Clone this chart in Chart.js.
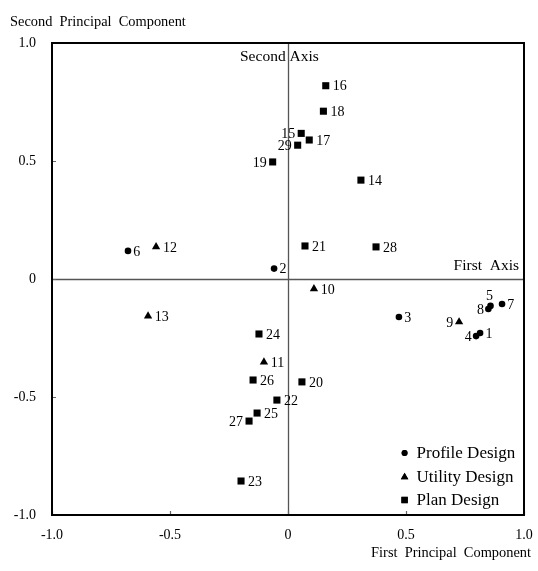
<!DOCTYPE html>
<html>
<head>
<meta charset="utf-8">
<script src="https://cdn.jsdelivr.net/npm/chart.js@4.4.1/dist/chart.umd.min.js"></script>
<style>
  html, body { margin: 0; padding: 0; background: #fff; }
  #wrap { width: 538px; height: 571px; }
</style>
</head>
<body>
<div id="wrap"><canvas id="c" width="538" height="571"></canvas></div>
<script>
// Principal component scores for each design sample
const profileIds = [1, 2, 3, 4, 5, 6, 7, 8];
const profileX   = [0.814, -0.059, 0.470, 0.797, 0.858, -0.678, 0.907, 0.849];
const profileY   = [-0.229, 0.044, -0.161, -0.242, -0.114, 0.119, -0.106, -0.127];

const utilityIds = [9, 10, 11, 12, 13];
const utilityX   = [0.725, 0.110, -0.102, -0.559, -0.593];
const utilityY   = [-0.182, -0.042, -0.352, 0.136, -0.157];

const planIds = [14, 15, 16, 17, 18, 19, 20, 21, 22, 23, 24, 25, 26, 27, 28, 29];
const planX   = [0.309, 0.056, 0.160, 0.090, 0.150, -0.065, 0.059, 0.072, -0.047, -0.199, -0.123, -0.131, -0.148, -0.165, 0.373, 0.041];
const planY   = [0.419, 0.617, 0.819, 0.589, 0.711, 0.496, -0.436, 0.140, -0.513, -0.856, -0.233, -0.568, -0.428, -0.602, 0.136, 0.567];

const seriesNames = ['Profile Design', 'Utility Design', 'Plan Design'];
const tickValues = [-1.0, -0.5, 0, 0.5, 1.0];
const tickLabels = ['-1.0', '-0.5', '0', '0.5', '1.0'];

const FONT = "'Liberation Serif', 'Times New Roman', serif";

// Which side of its marker each sample number sits on (default: right)
const labelSide = { 4: 'left', 8: 'left', 9: 'left', 15: 'left', 19: 'left', 27: 'left', 29: 'left', 5: 'above' };

function pts(xs, ys) { return xs.map((x, i) => ({ x: x, y: ys[i] })); }

const datasets = [
  { label: seriesNames[0], ids: profileIds, data: pts(profileX, profileY), pointStyle: 'circle',   pointRadius: 3.3 },
  { label: seriesNames[1], ids: utilityIds, data: pts(utilityX, utilityY), pointStyle: 'triangle', pointRadius: 4.8 },
  { label: seriesNames[2], ids: planIds,    data: pts(planX, planY),       pointStyle: 'rect',     pointRadius: 5.0 }
].map(d => Object.assign(d, {
  backgroundColor: '#000', borderColor: '#000', borderWidth: 0,
  pointHoverRadius: d.pointRadius, showLine: false
}));

// Frame, inner ticks, sample numbers, annotations and legend
const decor = {
  id: 'decor',
  beforeDatasetsDraw(chart) {
    const { ctx, chartArea: a, scales: { x, y } } = chart;
    ctx.save();
    // zero axes
    ctx.strokeStyle = '#555';
    ctx.lineWidth = 1.3;
    const x0 = Math.round(x.getPixelForValue(0)) + 0.5;
    const y0 = Math.round(y.getPixelForValue(0)) + 0.5;
    ctx.beginPath();
    ctx.moveTo(x0, a.top); ctx.lineTo(x0, a.bottom);
    ctx.moveTo(a.left, y0); ctx.lineTo(a.right, y0);
    ctx.stroke();
    // inward tick marks
    ctx.strokeStyle = '#666';
    ctx.lineWidth = 1.2;
    ctx.beginPath();
    tickValues.forEach(v => {
      const px = Math.round(x.getPixelForValue(v)) + 0.5;
      ctx.moveTo(px, a.bottom); ctx.lineTo(px, a.bottom - 4);
      const py = Math.round(y.getPixelForValue(v)) + 0.5;
      ctx.moveTo(a.left, py); ctx.lineTo(a.left + 4, py);
    });
    ctx.stroke();
    ctx.restore();
  },
  afterDatasetsDraw(chart) {
    const { ctx, chartArea: a, scales: { x, y } } = chart;
    ctx.save();
    // frame
    ctx.strokeStyle = '#000';
    ctx.lineWidth = 2;
    ctx.strokeRect(a.left, a.top, a.right - a.left, a.bottom - a.top);

    ctx.fillStyle = '#000';
    ctx.font = '14px ' + FONT;
    ctx.textBaseline = 'middle';
    // sample numbers
    chart.data.datasets.forEach((ds, di) => {
      const meta = chart.getDatasetMeta(di);
      meta.data.forEach((el, i) => {
        const id = ds.ids[i];
        const side = labelSide[id] || 'right';
        const r = ds.pointRadius;
        if (side === 'left') {
          ctx.textAlign = 'right';
          ctx.fillText(String(id), el.x - r - 1, el.y + 1);
        } else if (side === 'above') {
          ctx.textAlign = 'center';
          ctx.fillText(String(id), el.x - 1, el.y - 10);
        } else {
          ctx.textAlign = 'left';
          ctx.fillText(String(id), el.x + r + 2, el.y + 1);
        }
      });
    });

    // axis annotations
    ctx.font = '15.5px ' + FONT;
    ctx.textAlign = 'left';
    ctx.fillText('Second Axis', x.getPixelForValue(0) - 48, a.top + 14);
    ctx.textAlign = 'right';
    ctx.fillText('First  Axis', a.right - 5, y.getPixelForValue(0) - 13);

    // axis titles
    ctx.font = '14.4px ' + FONT;
    ctx.textAlign = 'left';
    ctx.fillText('Second  Principal  Component', 10, 22);
    ctx.textAlign = 'right';
    ctx.fillText('First  Principal  Component', 531, 553);

    // legend
    ctx.font = '17px ' + FONT;
    const lx = a.left + (a.right - a.left) * 0.747;
    const rows = [a.bottom - 62, a.bottom - 38, a.bottom - 15];
    ctx.textAlign = 'left';
    chart.data.datasets.forEach((ds, di) => {
      const yy = rows[di];
      Chart.helpers.drawPoint(ctx, { pointStyle: ds.pointStyle, radius: ds.pointRadius * 0.9, rotation: 0, borderWidth: 0 }, lx, yy);
      ctx.fill();
      ctx.fillText(ds.label, lx + 12, yy + 1);
    });
    ctx.restore();
  }
};

new Chart(document.getElementById('c'), {
  type: 'scatter',
  data: { datasets: datasets },
  options: {
    responsive: false,
    animation: false,
    layout: { padding: { top: 43, right: 14, left: 0, bottom: 0 } },
    plugins: { legend: { display: false }, tooltip: { enabled: false } },
    scales: {
      x: {
        type: 'linear', min: -1, max: 1,
        afterBuildTicks: s => { s.ticks = tickValues.map(v => ({ value: v })); },
        afterFit: s => { s.height = 56; s.paddingLeft = 0; s.paddingRight = 0; },
        grid: { display: false, drawTicks: false },
        border: { display: false },
        ticks: {
          padding: 12, color: '#000', font: { family: FONT, size: 14 },
          maxRotation: 0, autoSkip: false,
          callback: v => tickLabels[tickValues.indexOf(v)]
        }
      },
      y: {
        type: 'linear', min: -1, max: 1,
        afterBuildTicks: s => { s.ticks = tickValues.map(v => ({ value: v })); },
        afterFit: s => { s.width = 52; s.paddingTop = 0; s.paddingBottom = 0; },
        grid: { display: false, drawTicks: false },
        border: { display: false },
        ticks: {
          padding: 16, color: '#000', font: { family: FONT, size: 14 },
          autoSkip: false,
          callback: v => tickLabels[tickValues.indexOf(v)]
        }
      }
    }
  },
  plugins: [decor]
});
</script>
</body>
</html>
